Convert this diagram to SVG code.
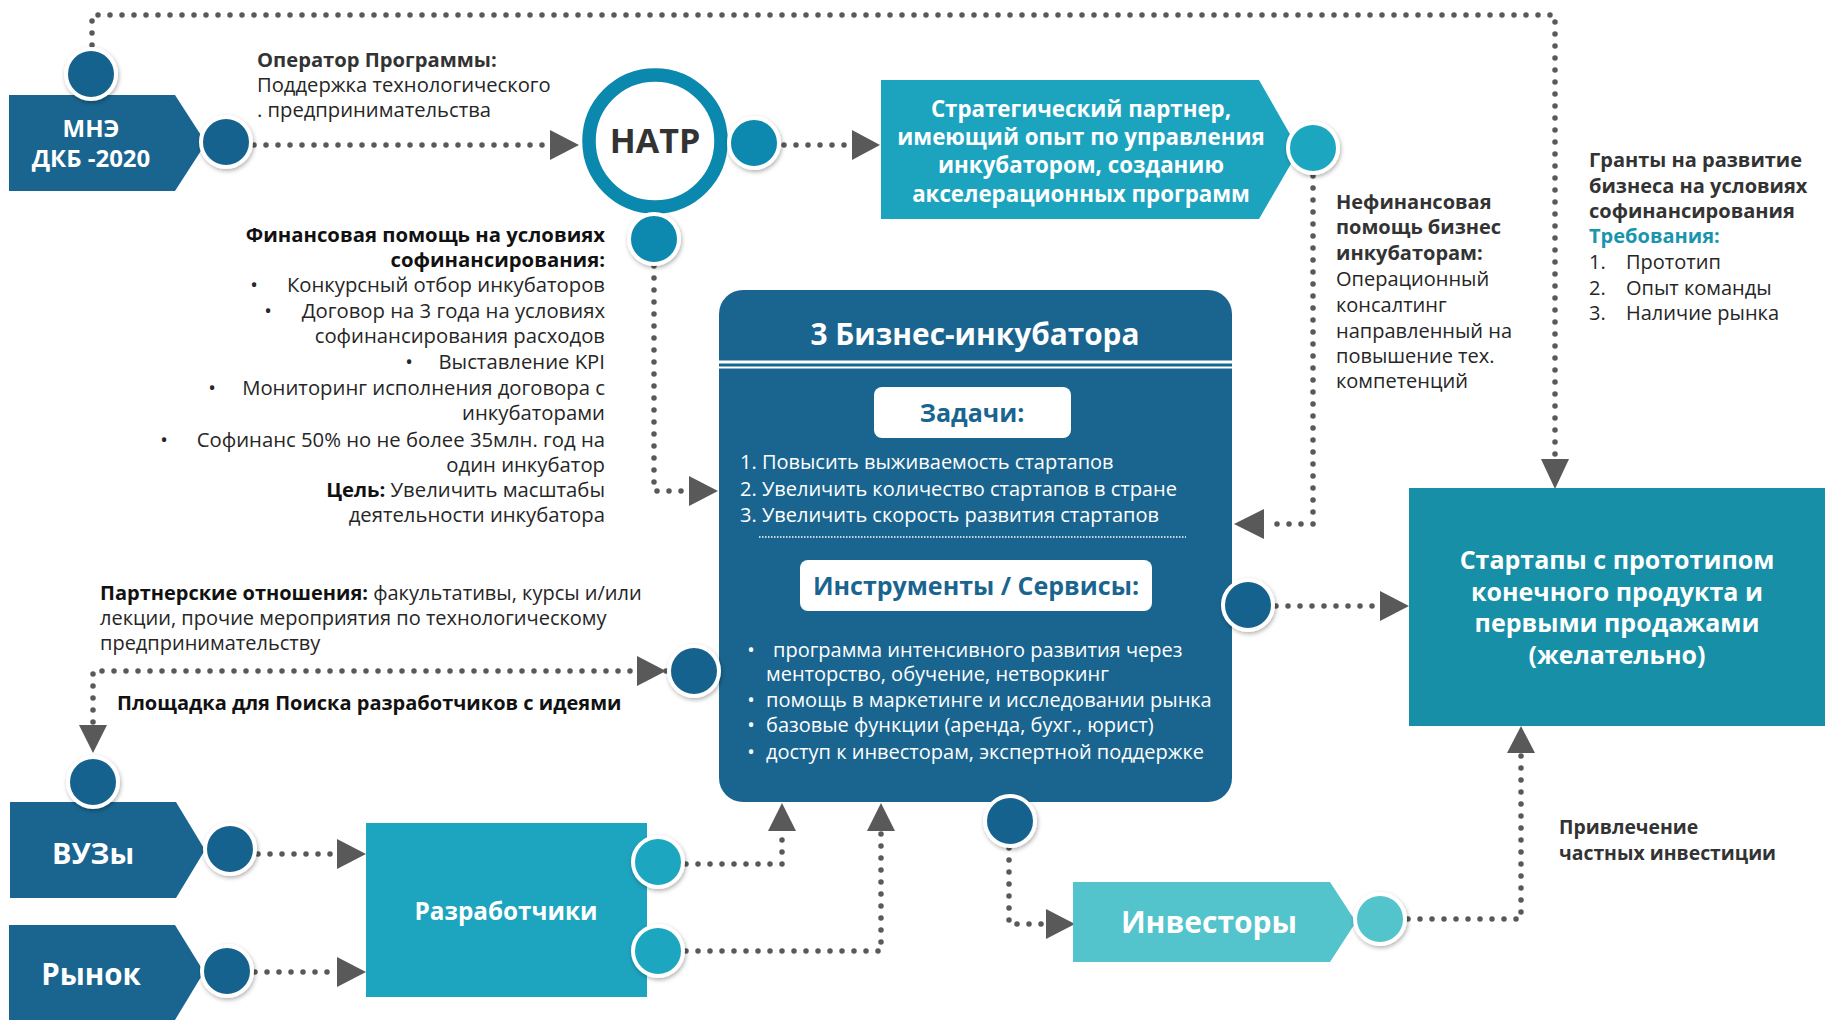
<svg xmlns="http://www.w3.org/2000/svg" width="1825" height="1027" viewBox="0 0 1825 1027" font-size="20">
<defs>
<filter id="sh" x="-30%" y="-30%" width="160%" height="160%">
<feDropShadow dx="1" dy="2" stdDeviation="2" flood-color="#000" flood-opacity="0.3"/>
</filter>
<style>
.t{font-family:"Open Sans","Noto Sans","DejaVu Sans",sans-serif;fill:#262626}
.b{font-weight:700}
.hd{fill:#333}
.w{fill:#fff}
.dot{fill:none;stroke:#595959;stroke-width:5.5;stroke-linecap:round;stroke-dasharray:0 12}
.arr{fill:#595959}
.cir{stroke:#fff;stroke-width:4;filter:url(#sh)}
.cd{fill:#18628E}
.cn{fill:#0A88AE}
.ct{fill:#1EA6C0}
.cl{fill:#53C3CC}
</style>
</defs>
<rect width="1825" height="1027" fill="#fff"/>

<!-- connectors -->
<g id="connectors">
<polyline class="dot" points="92,45 92,15 1555,15 1555,458"/>
<polygon class="arr" points="1541,459 1569,459 1555,489"/>
<line class="dot" x1="254" y1="145" x2="548" y2="145"/>
<polygon class="arr" points="550,130 550,160 579,145"/>
<line class="dot" x1="784" y1="145" x2="850" y2="145"/>
<polygon class="arr" points="852,130 852,160 880,145"/>
<polyline class="dot" points="654,266 654,491 688,491"/>
<polygon class="arr" points="689,476 689,506 718,491"/>
<polyline class="dot" points="1313,176 1313,524 1266,524"/>
<polygon class="arr" points="1264,509 1264,539 1234,524"/>
<line class="dot" x1="1276" y1="606" x2="1378" y2="606"/>
<polygon class="arr" points="1380,591 1380,621 1409,606"/>
<polyline class="dot" points="666,671 93,671 93,724"/>
<polygon class="arr" points="637,656 637,686 666,671"/>
<polygon class="arr" points="79,725 107,725 93,753"/>
<line class="dot" x1="258" y1="854" x2="336" y2="854"/>
<polygon class="arr" points="337,839 337,869 366,854"/>
<line class="dot" x1="255" y1="972" x2="336" y2="972"/>
<polygon class="arr" points="337,957 337,987 366,972"/>
<polyline class="dot" points="686,864 782,864 782,833"/>
<polygon class="arr" points="768,831 796,831 782,803"/>
<polyline class="dot" points="686,951 881,951 881,833"/>
<polygon class="arr" points="867,831 895,831 881,803"/>
<polyline class="dot" points="1009,848 1009,924 1045,924"/>
<polygon class="arr" points="1046,909 1046,939 1075,924"/>
<polyline class="dot" points="1408,919 1521,919 1521,754"/>
<polygon class="arr" points="1507,753 1535,753 1521,726"/>
</g>

<!-- МНЭ -->
<g id="mne">
<polygon points="9,95 175,95 206,143 175,191 9,191" fill="#1A6590"/>
<text class="t b w" x="91" y="137" text-anchor="middle" font-size="24">МНЭ</text>
<text class="t b w" x="91" y="167" text-anchor="middle" font-size="24">ДКБ -2020</text>
<circle class="cir cd" cx="91" cy="74" r="25"/>
<circle class="cir cd" cx="226" cy="142" r="25"/>
</g>

<g id="operator-label">
<text class="t b hd" x="257" y="67" font-size="20.2">Оператор Программы:</text>
<text class="t" x="257" y="92" font-size="20.2">Поддержка технологического</text>
<text class="t" x="257" y="117" font-size="20.2">. предпринимательства</text>
</g>

<!-- НАТР -->
<g id="natr">
<circle cx="655" cy="141" r="66" fill="#fff" stroke="#0A88AE" stroke-width="13.5"/>
<text class="t b" x="655" y="153" text-anchor="middle" font-size="34" style="fill:#333">НАТР</text>
<circle class="cir cn" cx="754" cy="143" r="25"/>
<circle class="cir cn" cx="654" cy="239" r="25"/>
</g>

<!-- Стратегический партнер -->
<g id="strategic">
<polygon points="881,80 1259,80 1299,150 1259,219 881,219" fill="#1CA4BF"/>
<text class="t b w" x="1081" y="117" text-anchor="middle" font-size="22.3">Стратегический партнер,</text>
<text class="t b w" x="1081" y="145" text-anchor="middle" font-size="22.3">имеющий опыт по управления</text>
<text class="t b w" x="1081" y="173" text-anchor="middle" font-size="22.3">инкубатором, созданию</text>
<text class="t b w" x="1081" y="202" text-anchor="middle" font-size="22.3">акселерационных программ</text>
<circle class="cir ct" cx="1313" cy="148" r="25"/>
</g>

<g id="nonfin-label">
<text class="t b hd" x="1336" y="209">Нефинансовая</text>
<text class="t b hd" x="1336" y="234">помощь бизнес</text>
<text class="t b hd" x="1336" y="260">инкубаторам:</text>
<text class="t" x="1336" y="286">Операционный</text>
<text class="t" x="1336" y="312">консалтинг</text>
<text class="t" x="1336" y="338">направленный на</text>
<text class="t" x="1336" y="363">повышение тех.</text>
<text class="t" x="1336" y="388">компетенций</text>
</g>

<g id="grants-label">
<text class="t b hd" x="1589" y="167">Гранты на развитие</text>
<text class="t b hd" x="1589" y="193">бизнеса на условиях</text>
<text class="t b hd" x="1589" y="218">софинансирования</text>
<text class="t b" x="1589" y="243" style="fill:#1A95AE">Требования:</text>
<text class="t" x="1589" y="269">1.</text><text class="t" x="1626" y="269">Прототип</text>
<text class="t" x="1589" y="295">2.</text><text class="t" x="1626" y="295">Опыт команды</text>
<text class="t" x="1589" y="320">3.</text><text class="t" x="1626" y="320">Наличие рынка</text>
</g>

<g id="fin-label" font-size="20.3">
<text class="t b" x="605" y="242" text-anchor="end" style="fill:#111">Финансовая помощь на условиях</text>
<text class="t b" x="605" y="267" text-anchor="end" style="fill:#111">софинансирования:</text>
<text class="t" x="254" y="292" text-anchor="middle">•</text>
<text class="t" x="605" y="292" text-anchor="end">Конкурсный отбор инкубаторов</text>
<text class="t" x="268" y="318" text-anchor="middle">•</text>
<text class="t" x="605" y="318" text-anchor="end">Договор на 3 года на условиях</text>
<text class="t" x="605" y="343" text-anchor="end">софинансирования расходов</text>
<text class="t" x="409" y="369" text-anchor="middle">•</text>
<text class="t" x="605" y="369" text-anchor="end">Выставление KPI</text>
<text class="t" x="212" y="395" text-anchor="middle">•</text>
<text class="t" x="605" y="395" text-anchor="end">Мониторинг исполнения договора с</text>
<text class="t" x="605" y="420" text-anchor="end">инкубаторами</text>
<text class="t" x="164" y="447" text-anchor="middle">•</text>
<text class="t" x="605" y="447" text-anchor="end">Софинанс 50% но не более 35млн. год на</text>
<text class="t" x="605" y="472" text-anchor="end">один инкубатор</text>
<text class="t" x="605" y="497" text-anchor="end"><tspan class="b" style="fill:#111">Цель:</tspan> Увеличить масштабы</text>
<text class="t" x="605" y="522" text-anchor="end">деятельности инкубатора</text>
</g>

<!-- 3 Бизнес-инкубатора -->
<g id="incubator">
<rect x="719" y="290" width="513" height="512" rx="24" fill="#1A6590"/>
<text class="t b w" x="975" y="345" text-anchor="middle" font-size="29.8">3 Бизнес-инкубатора</text>
<line x1="719" y1="362" x2="1232" y2="362" stroke="#fff" stroke-width="3"/>
<line x1="719" y1="367.5" x2="1232" y2="367.5" stroke="#fff" stroke-width="2"/>
<rect x="874" y="387" width="197" height="51" rx="8" fill="#fff"/>
<text class="t b" x="972" y="422" text-anchor="middle" font-size="25" style="fill:#1A6590">Задачи:</text>
<text class="t w" x="740" y="469">1. Повысить выживаемость стартапов</text>
<text class="t w" x="740" y="496">2. Увеличить количество стартапов в стране</text>
<text class="t w" x="740" y="522">3. Увеличить скорость развития стартапов</text>
<line x1="759" y1="537" x2="1186" y2="537" stroke="#fff" stroke-width="1.5" stroke-dasharray="1.5 1.5"/>
<rect x="800" y="560" width="352" height="51" rx="8" fill="#fff"/>
<text class="t b" x="976" y="595" text-anchor="middle" font-size="25" style="fill:#1A6590">Инструменты / Сервисы:</text>
<text class="t w" x="751" y="657" text-anchor="middle">•</text>
<text class="t w" x="773" y="657">программа интенсивного развития через</text>
<text class="t w" x="766" y="681">менторство, обучение, нетворкинг</text>
<text class="t w" x="751" y="707" text-anchor="middle">•</text>
<text class="t w" x="766" y="707">помощь в маркетинге и исследовании рынка</text>
<text class="t w" x="751" y="732" text-anchor="middle">•</text>
<text class="t w" x="766" y="732">базовые функции (аренда, бухг., юрист)</text>
<text class="t w" x="751" y="759" text-anchor="middle">•</text>
<text class="t w" x="766" y="759">доступ к инвесторам, экспертной поддержке</text>
<circle class="cir cd" cx="1248" cy="605" r="25"/>
<circle class="cir cd" cx="1010" cy="821" r="25"/>
<circle class="cir cd" cx="694" cy="671" r="25"/>
</g>

<!-- Стартапы -->
<g id="startups">
<rect x="1409" y="488" width="416" height="238" fill="#178FA7"/>
<text class="t b w" x="1617" y="569" text-anchor="middle" font-size="25">Стартапы с прототипом</text>
<text class="t b w" x="1617" y="601" text-anchor="middle" font-size="25">конечного продукта и</text>
<text class="t b w" x="1617" y="632" text-anchor="middle" font-size="25">первыми продажами</text>
<text class="t b w" x="1617" y="664" text-anchor="middle" font-size="25">(желательно)</text>
</g>

<g id="partner-label">
<text class="t" x="100" y="600"><tspan class="b" style="fill:#111">Партнерские отношения:</tspan> факультативы, курсы и/или</text>
<text class="t" x="100" y="625">лекции, прочие мероприятия по технологическому</text>
<text class="t" x="100" y="650">предпринимательству</text>
<text class="t b" x="117" y="710" style="fill:#111">Площадка для Поиска разработчиков с идеями</text>
</g>

<!-- ВУЗы -->
<g id="vuzy">
<polygon points="10,802 176,802 205,850 176,898 10,898" fill="#1A6590"/>
<text class="t b w" x="93" y="864" text-anchor="middle" font-size="29">ВУЗы</text>
<circle class="cir cd" cx="93" cy="782" r="25"/>
<circle class="cir cd" cx="230" cy="849" r="25"/>
</g>

<!-- Рынок -->
<g id="rynok">
<polygon points="9,925 175,925 204,972 175,1020 9,1020" fill="#1A6590"/>
<text class="t b w" x="91" y="985" text-anchor="middle" font-size="29.5">Рынок</text>
<circle class="cir cd" cx="227" cy="971" r="25"/>
</g>

<!-- Разработчики -->
<g id="developers">
<rect x="366" y="823" width="281" height="174" fill="#1DA4BF"/>
<text class="t b w" x="506" y="920" text-anchor="middle" font-size="24.3">Разработчики</text>
<circle class="cir ct" cx="658" cy="862" r="25"/>
<circle class="cir ct" cx="658" cy="951" r="25"/>
</g>

<!-- Инвесторы -->
<g id="investors">
<polygon points="1073,882 1330,882 1356,922 1330,962 1073,962" fill="#53C3CC"/>
<text class="t b w" x="1209" y="933" text-anchor="middle" font-size="30">Инвесторы</text>
<circle class="cir cl" cx="1380" cy="919" r="25"/>
</g>

<g id="invest-label">
<text class="t b hd" x="1559" y="834" font-size="19.4">Привлечение</text>
<text class="t b hd" x="1559" y="860" font-size="19.4">частных инвестиции</text>
</g>
</svg>
